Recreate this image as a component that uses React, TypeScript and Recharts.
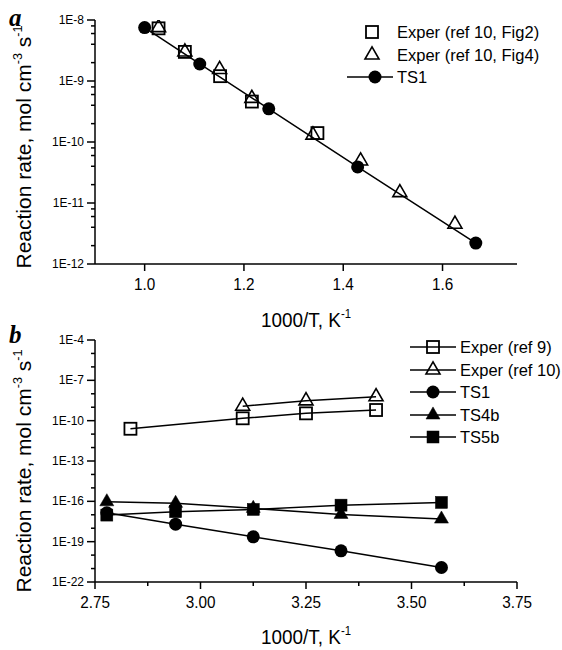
import React from "react";
import { ScatterChart, Scatter, XAxis, YAxis } from "recharts";

// ─── Panel a data (1000/T, rate) ─────────────────────────────
const tA_ts1 = [1.0, 1.111, 1.25, 1.429, 1.667];
const rA_ts1 = [7.5e-9, 1.9e-9, 3.5e-10, 3.9e-11, 2.2e-12];
const tA_fig2 = [1.028, 1.081, 1.152, 1.216, 1.348];
const rA_fig2 = [7.3e-9, 3.0e-9, 1.2e-9, 4.6e-10, 1.4e-10];
const tA_fig4 = [1.028, 1.081, 1.151, 1.216, 1.339, 1.435, 1.514, 1.625];
const rA_fig4 = [7.5e-9, 3.0e-9, 1.55e-9, 5.2e-10, 1.3e-10, 4.9e-11, 1.48e-11, 4.5e-12];

// ─── Panel b data ────────────────────────────────────────────
const tB_ref9 = [2.834, 3.1, 3.25, 3.416];
const rB_ref9 = [2.5e-11, 1.5e-10, 3.5e-10, 6.2e-10];
const tB_ref10 = [3.1, 3.25, 3.416];
const rB_ref10 = [1.2e-9, 3.0e-9, 6.0e-9];
const tB_ts = [2.778, 2.941, 3.125, 3.333, 3.571];
const rB_ts1 = [1.4e-17, 2.0e-18, 2.3e-19, 2.1e-20, 1.2e-21];
const rB_ts4b = [9.3e-17, 7.1e-17, 3.0e-17, 1.07e-17, 4.8e-18];
const rB_ts5b = [9.5e-18, 1.7e-17, 2.5e-17, 5.2e-17, 8.3e-17];

// ─── Ticks ───────────────────────────────────────────────────
const yMajorA = [1e-12, 1e-11, 1e-10, 1e-9, 1e-8];
const yMinorMultA = [2, 4, 6, 8];
const xTicksA = [1.0, 1.2, 1.4, 1.6];

const yDecadesB = [1e-22, 1e-21, 1e-20, 1e-19, 1e-18, 1e-17, 1e-16, 1e-15, 1e-14, 1e-13,
  1e-12, 1e-11, 1e-10, 1e-9, 1e-8, 1e-7, 1e-6, 1e-5, 1e-4];
const yLabelledB = [1e-22, 1e-19, 1e-16, 1e-13, 1e-10, 1e-7, 1e-4];
const xMajorB = [2.75, 3.0, 3.25, 3.5, 3.75];
const xMinorB = [2.875, 3.125, 3.375, 3.625];

const yTicksA = [
  ...yMajorA,
  ...yMajorA.slice(0, -1).flatMap((d) => yMinorMultA.map((m) => m * d)),
].sort((a, b) => a - b);
const xTicksB = [...xMajorB, ...xMinorB].sort((a, b) => a - b);

const FONT = '"Liberation Sans", Arial, Helvetica, sans-serif';
const STROKE = 1.5;

const pts = (xs: number[], ys: number[]) => xs.map((x, i) => ({ x, y: ys[i] }));
const inList = (v: number, list: number[]) => list.some((t) => Math.abs(v / t - 1) < 1e-6);
const expLabel = (v: number) => `1E${Math.round(Math.log10(v))}`;

type Kind = "square" | "triangle" | "circle";

function Marker({ cx, cy, kind, filled }: { cx: number; cy: number; kind: Kind; filled: boolean }) {
  const fill = filled ? "#000" : "none";
  if (kind === "circle") return <circle cx={cx} cy={cy} r={6.5} fill="#000" />;
  if (kind === "square") {
    const s = 12;
    return (
      <rect x={cx - s / 2} y={cy - s / 2} width={s} height={s} fill={fill}
        stroke="#000" strokeWidth={filled ? 0.5 : 1.8} />
    );
  }
  const side = 14;
  const h = (side * Math.sqrt(3)) / 2;
  const p = `${cx},${cy - (2 * h) / 3} ${cx - side / 2},${cy + h / 3} ${cx + side / 2},${cy + h / 3}`;
  return <polygon points={p} fill={fill} stroke="#000" strokeWidth={filled ? 0.5 : 1.6} strokeLinejoin="miter" />;
}

const shape = (kind: Kind, filled: boolean) => (p: any) =>
  <Marker cx={p.cx} cy={p.cy} kind={kind} filled={filled} />;

function makeYTick(labelled: number[]) {
  return (props: any) => {
    const { x, y, payload } = props;
    const v = payload.value as number;
    const major = inList(v, labelled);
    const len = major ? 8 : 4;
    return (
      <g>
        <line x1={x} x2={x - len} y1={y} y2={y} stroke="#000" strokeWidth={STROKE} />
        {major && (
          <text x={x - len - 3} y={y} textAnchor="end" dominantBaseline="central"
            fontSize={12} fontFamily={FONT} fill="#000">
            {expLabel(v)}
          </text>
        )}
      </g>
    );
  };
}

function makeXTick(labelled: number[], digits: number) {
  return (props: any) => {
    const { x, y, payload } = props;
    const v = payload.value as number;
    const major = inList(v, labelled);
    const len = major ? 7 : 4;
    return (
      <g>
        <line x1={x} x2={x} y1={y} y2={y + len} stroke="#000" strokeWidth={STROKE} />
        {major && (
          <text transform={`translate(${x},${y + 20}) scale(0.9,1)`} textAnchor="middle"
            dominantBaseline="central" fontSize={17} fontFamily={FONT} fill="#000">
            {v.toFixed(digits)}
          </text>
        )}
      </g>
    );
  };
}

const Sup = ({ children }: { children: React.ReactNode }) => (
  <span style={{ fontSize: "0.6em", position: "relative", top: "-0.75em" }}>{children}</span>
);

function YTitle({ cy }: { cy: number }) {
  return (
    <div style={{
      position: "absolute", left: 23, top: cy, transform: "translate(-50%,-50%) rotate(-90deg)",
      whiteSpace: "nowrap", fontFamily: FONT, fontSize: 21, lineHeight: 1,
    }}>
      Reaction rate, mol cm<Sup>-3</Sup> s<Sup>-1</Sup>
    </div>
  );
}

function XTitle({ top }: { top: number }) {
  return (
    <div style={{
      position: "absolute", left: 306, top, transform: "translate(-50%,0) scale(0.9,1)",
      whiteSpace: "nowrap", fontFamily: FONT, fontSize: 21, lineHeight: 1,
    }}>
      1000/T, K<Sup>-1</Sup>
    </div>
  );
}

function PanelLetter({ text, top }: { text: string; top: number }) {
  return (
    <div style={{
      position: "absolute", left: 9, top, fontFamily: '"Liberation Serif", serif',
      fontWeight: "bold", fontStyle: "italic", fontSize: 25, lineHeight: 1,
    }}>{text}</div>
  );
}

function LegendRow({ x, y, kind, filled, line, label, mx }: {
  x: number; y: number; kind: Kind; filled: boolean; line: boolean; label: string; mx: number;
}) {
  return (
    <>
      <svg style={{ position: "absolute", left: x, top: y - 10 }} width={50} height={20}>
        {line && <line x1={0} x2={46} y1={10} y2={10} stroke="#000" strokeWidth={STROKE} />}
        <Marker cx={mx} cy={10} kind={kind} filled={filled} />
      </svg>
      <div style={{
        position: "absolute", left: x + 50, top: y, transform: "translateY(-50%)",
        fontFamily: FONT, fontSize: 16.5, lineHeight: 1, whiteSpace: "nowrap",
      }}>{label}</div>
    </>
  );
}

const axisLine = { stroke: "#000", strokeWidth: STROKE };

export default function App() {
  return (
    <div style={{ position: "relative", width: 562, height: 650, background: "#fff", overflow: "hidden" }}>
      <style>{"body{margin:0}"}</style>

      {/* Panel a */}
      <div style={{ position: "absolute", left: 0, top: 0 }}>
        <ScatterChart width={562} height={330} margin={{ top: 20, right: 45, left: 35, bottom: 36 }}>
          <XAxis type="number" dataKey="x" domain={[0.9, 1.75]} ticks={xTicksA} interval={0}
            allowDataOverflow tickSize={0} tickMargin={0} tickLine={false} axisLine={axisLine}
            height={30} tick={makeXTick(xTicksA, 1)} />
          <YAxis type="number" dataKey="y" scale="log" domain={[1e-12, 1e-8]} ticks={yTicksA}
            interval={0} allowDataOverflow tickSize={0} tickMargin={0} tickLine={false}
            axisLine={axisLine} width={60} tick={makeYTick(yMajorA)} />
          <Scatter data={pts(tA_ts1, rA_ts1)} line={{ stroke: "#000", strokeWidth: STROKE }}
            shape={shape("circle", true)} isAnimationActive={false} />
          <Scatter data={pts(tA_fig2, rA_fig2)} shape={shape("square", false)} isAnimationActive={false} />
          <Scatter data={pts(tA_fig4, rA_fig4)} shape={shape("triangle", false)} isAnimationActive={false} />
        </ScatterChart>
      </div>

      {/* Panel b */}
      <div style={{ position: "absolute", left: 0, top: 330 }}>
        <ScatterChart width={562} height={320} margin={{ top: 10, right: 45, left: 35, bottom: 38 }}>
          <XAxis type="number" dataKey="x" domain={[2.75, 3.75]} ticks={xTicksB} interval={0}
            allowDataOverflow tickSize={0} tickMargin={0} tickLine={false} axisLine={axisLine}
            height={30} tick={makeXTick(xMajorB, 2)} />
          <YAxis type="number" dataKey="y" scale="log" domain={[1e-22, 1e-4]} ticks={yDecadesB}
            interval={0} allowDataOverflow tickSize={0} tickMargin={0} tickLine={false}
            axisLine={axisLine} width={60} tick={makeYTick(yLabelledB)} />
          <Scatter data={pts(tB_ref9, rB_ref9)} line={{ stroke: "#000", strokeWidth: STROKE }}
            shape={shape("square", false)} isAnimationActive={false} />
          <Scatter data={pts(tB_ref10, rB_ref10)} line={{ stroke: "#000", strokeWidth: STROKE }}
            shape={shape("triangle", false)} isAnimationActive={false} />
          <Scatter data={pts(tB_ts, rB_ts1)} line={{ stroke: "#000", strokeWidth: STROKE }}
            shape={shape("circle", true)} isAnimationActive={false} />
          <Scatter data={pts(tB_ts, rB_ts4b)} line={{ stroke: "#000", strokeWidth: STROKE }}
            shape={shape("triangle", true)} isAnimationActive={false} />
          <Scatter data={pts(tB_ts, rB_ts5b)} line={{ stroke: "#000", strokeWidth: STROKE }}
            shape={shape("square", true)} isAnimationActive={false} />
        </ScatterChart>
      </div>

      <PanelLetter text="a" top={5} />
      <PanelLetter text="b" top={322} />
      <YTitle cy={147} />
      <YTitle cy={471} />
      <XTitle top={309} />
      <XTitle top={626} />

      {/* Legend a */}
      <LegendRow x={347} y={32} kind="square" filled={false} line={false} label="Exper (ref 10, Fig2)" mx={25} />
      <LegendRow x={347} y={55} kind="triangle" filled={false} line={false} label="Exper (ref 10, Fig4)" mx={25} />
      <LegendRow x={347} y={77} kind="circle" filled={true} line={true} label="TS1" mx={28} />

      {/* Legend b */}
      <LegendRow x={410} y={347} kind="square" filled={false} line={true} label="Exper (ref 9)" mx={23} />
      <LegendRow x={410} y={369.5} kind="triangle" filled={false} line={true} label="Exper (ref 10)" mx={23} />
      <LegendRow x={410} y={392} kind="circle" filled={true} line={true} label="TS1" mx={23} />
      <LegendRow x={410} y={414.5} kind="triangle" filled={true} line={true} label="TS4b" mx={23} />
      <LegendRow x={410} y={437} kind="square" filled={true} line={true} label="TS5b" mx={23} />
    </div>
  );
}
